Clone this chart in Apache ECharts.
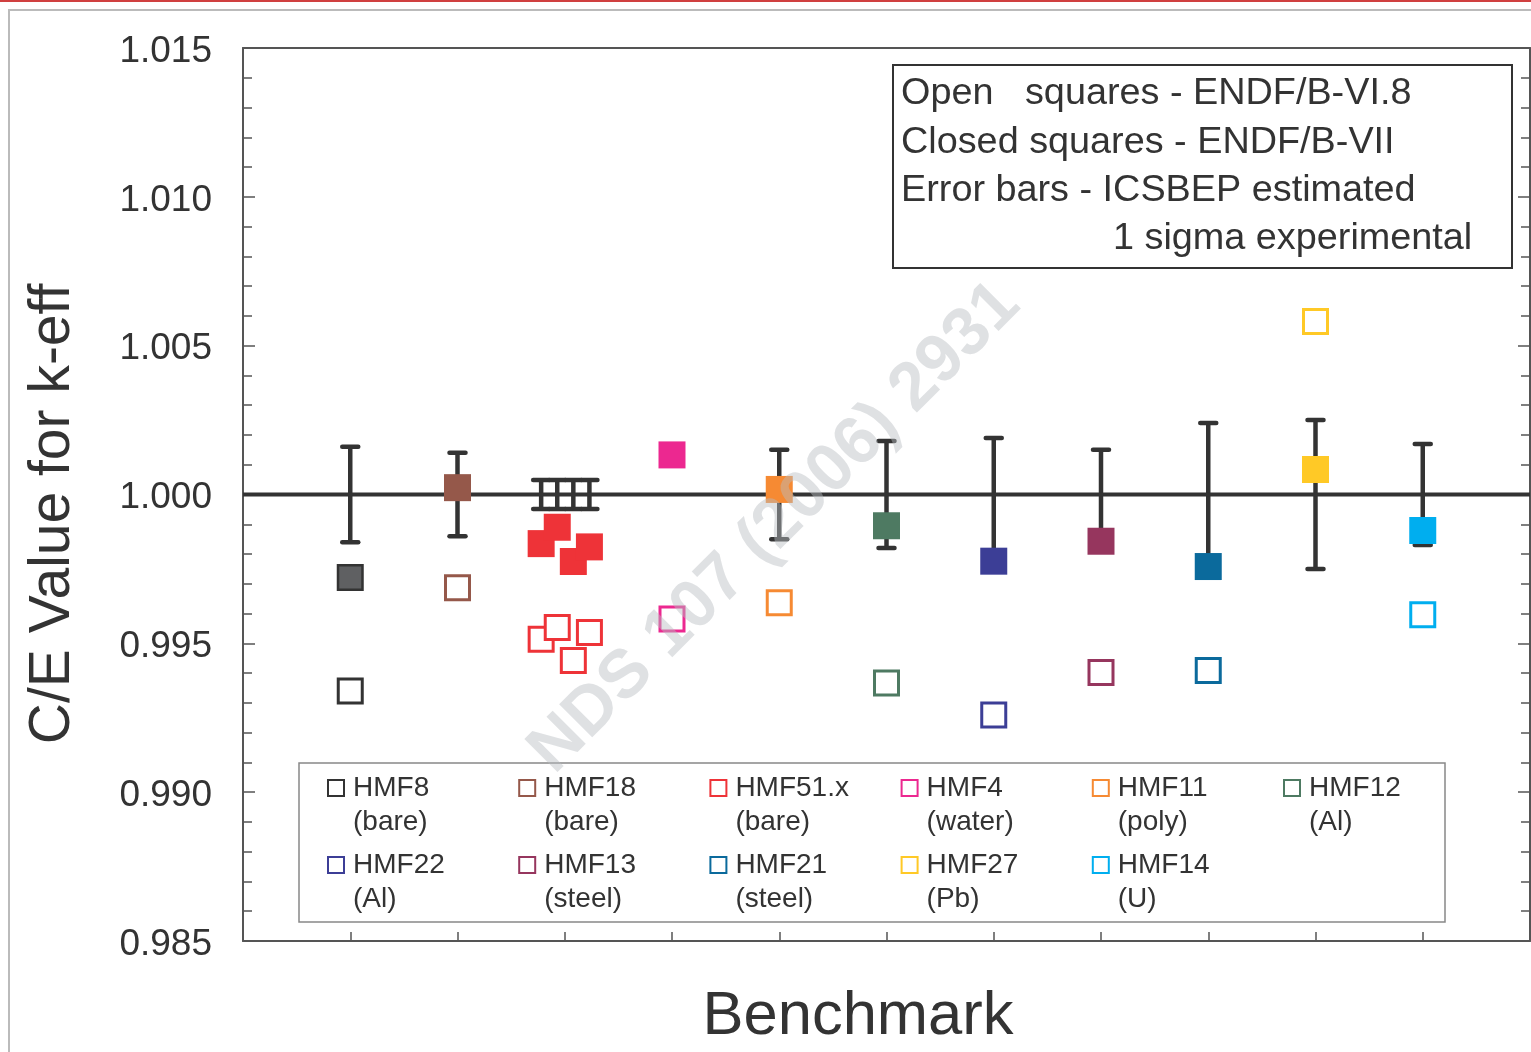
<!DOCTYPE html>
<html>
<head>
<meta charset="utf-8">
<script src="https://cdn.jsdelivr.net/npm/echarts@6/dist/echarts.min.js"></script>
<style>
html,body{margin:0;padding:0;background:#fff;}
#chart{width:1531px;height:1052px;}
</style>
</head>
<body>
<div id="chart"></div>
<script>
// ---------------- data ----------------
const benchmarks = ['HMF8','HMF18','HMF51.x','HMF4','HMF11','HMF12','HMF22','HMF13','HMF21','HMF27','HMF14'];
const materials  = ['(bare)','(bare)','(bare)','(water)','(poly)','(Al)','(Al)','(steel)','(steel)','(Pb)','(U)'];
const colors     = ['#333333','#95584a','#ee3338','#ec2890','#f68a33','#4e7a62','#3c3e96','#96365e','#0b6a9c','#ffc926','#00aeef'];
const xPositions = [[1],[2],[2.78,2.93,3.08,3.23],[4],[5],[6],[7],[8],[9],[10],[11]];
// Closed squares - ENDF/B-VII
const closedCE = [[0.99721],[1.00023],[0.99835,0.99890,0.99775,0.99824],[1.00133],[1.00017],[0.99895],[0.99776],[0.99843],[0.99758],[1.00084],[0.99879]];
// Open squares - ENDF/B-VI.8
const openCE   = [[0.99340],[0.99687],[0.99514,0.99553,0.99442,0.99536],[0.99582],[0.99636],[0.99367],[0.99259],[0.99402],[0.99409],[1.00581],[0.99596]];
// 1 sigma experimental uncertainty (about 1.000)
const sigma    = [[0.0016],[0.0014],[0.00049,0.00049,0.00049,0.00049],[null],[0.0015],[0.0018],[0.0019],[0.0015],[0.0024],[0.0025],[0.0017]];
const yTickLabels = ['0.985','0.990','0.995','1.000','1.005','1.010','1.015'];
const infoLines = ['Open   squares - ENDF/B-VI.8','Closed squares - ENDF/B-VII','Error bars - ICSBEP estimated','1 sigma experimental'];
const reference = 1.0;

// ---------------- chart ----------------
const FONT = '"Liberation Sans", Arial, Helvetica, sans-serif';
const TXT = '#333333';
const AX = '#555555';
const chart = echarts.init(document.getElementById('chart'), null, {renderer:'canvas'});

const errData = [];
benchmarks.forEach((b,i)=>{
  xPositions[i].forEach((x,j)=>{
    const s = sigma[i][j];
    if (s != null) errData.push([x, reference - s, reference + s]);
  });
});

const series = [];
series.push({
  type:'custom', z:2, silent:true,
  data: errData,
  renderItem: function(params, api){
    const x = api.value(0);
    const lo = api.coord([x, api.value(1)]);
    const hi = api.coord([x, api.value(2)]);
    const hw = 8;
    const st = {stroke:'#333333', lineWidth:4.5, lineCap:'round'};
    return {type:'group', children:[
      {type:'line', shape:{x1:lo[0],y1:lo[1],x2:hi[0],y2:hi[1]}, style:{stroke:'#333333',lineWidth:4.5}},
      {type:'line', shape:{x1:lo[0]-hw,y1:lo[1],x2:lo[0]+hw,y2:lo[1]}, style:st},
      {type:'line', shape:{x1:hi[0]-hw,y1:hi[1],x2:hi[0]+hw,y2:hi[1]}, style:st}
    ]};
  }
});
series.push({
  type:'line', z:3, silent:true, symbol:'none',
  data:[[0,reference],[12,reference]],
  lineStyle:{color:'#333333', width:4}
});
benchmarks.forEach((b,i)=>{
  const c = colors[i];
  series.push({
    name:b+' open', type:'scatter', z:5, silent:true, symbol:'rect', symbolSize:24,
    data: xPositions[i].map((x,j)=>[x, openCE[i][j]]),
    itemStyle:{color:'#ffffff', borderColor:c, borderWidth:3, opacity:1}
  });
  series.push({
    name:b+' closed', type:'scatter', z:6, silent:true, symbol:'rect',
    symbolSize: i===0 ? 24.5 : 27,
    data: xPositions[i].map((x,j)=>[x, closedCE[i][j]]),
    itemStyle: i===0 ? {color:'#5f6062', borderColor:'#333333', borderWidth:2.5, opacity:1}
                     : {color:c, opacity:1}
  });
});

// legend (graphic), built from benchmark arrays
const graphics = [];
graphics.push({type:'rect', z:0, shape:{x:9,y:10,width:1600,height:1100}, style:{fill:'none',stroke:'#bbbbbb',lineWidth:2}});
graphics.push({type:'rect', z:0, shape:{x:0,y:0,width:1531,height:2}, style:{fill:'#d04040'}});
graphics.push({type:'rect', z:50, shape:{x:299,y:763,width:1146,height:159}, style:{fill:'#ffffff',stroke:'#888888',lineWidth:1.5}});
benchmarks.forEach((b,i)=>{
  const col = i % 6, row = Math.floor(i/6);
  const x0 = 327 + col*191.2;
  const yc = 788 + row*77;
  graphics.push({type:'rect', z:51, shape:{x:x0+1,y:yc-8,width:16,height:16}, style:{fill:'#fff',stroke:colors[i],lineWidth:2}});
  graphics.push({type:'text', z:51, x:x0+26, y:yc, style:{text:b, font:'28px '+FONT, fill:TXT, verticalAlign:'middle', align:'left'}});
  graphics.push({type:'text', z:51, x:x0+26, y:yc+34, style:{text:materials[i], font:'28px '+FONT, fill:TXT, verticalAlign:'middle', align:'left'}});
});
// info box
graphics.push({type:'rect', z:50, shape:{x:893,y:65,width:619,height:203}, style:{fill:'#ffffff',stroke:'#333333',lineWidth:2}});
infoLines.forEach((t,k)=>{
  graphics.push({type:'text', z:51, x: k===3 ? 1113 : 901, y: 94 + k*48.3,
    style:{text:t, font:'37.8px '+FONT, fill:TXT, verticalAlign:'middle', align:'left'}});
});
// axis titles
graphics.push({type:'text', z:51, x:858, y:1017, style:{text:'Benchmark', font:'61.5px '+FONT, fill:TXT, align:'center', verticalAlign:'middle'}});
graphics.push({type:'text', z:51, x:53, y:514, rotation:Math.PI/2, style:{text:'C/E Value for k-eff', font:'57px '+FONT, fill:TXT, align:'center', verticalAlign:'middle'}});
// watermark
graphics.push({type:'text', z:200, x:775, y:528, rotation:Math.PI/4, style:{text:'NDS 107 (2006) 2931', font:'bold 68px '+FONT, fill:'rgba(185,188,192,0.45)', align:'center', verticalAlign:'middle'}});

function yAxisCfg(pos, showLabel){
  return {
    type:'value', min:0.985, max:1.015, interval:0.005, position:pos,
    axisLine:{show:true, onZero:false, lineStyle:{color:AX, width:2}},
    axisTick:{show:true, inside:true, length:12, lineStyle:{color:AX, width:1.5}},
    minorTick:{show:true, splitNumber:5, length:9, lineStyle:{color:AX, width:1.5}},
    splitLine:{show:false}, minorSplitLine:{show:false},
    axisLabel: showLabel ? {show:true, inside:false, margin:31, color:TXT, fontSize:37, fontFamily:FONT,
        rich:{v:{fontSize:37, fontFamily:FONT, color:TXT, padding:[7,0,0,0]}},
        formatter:function(v){ const idx = Math.round((v-0.985)/0.005); return '{v|' + (yTickLabels[idx] || '') + '}'; }} : {show:false}
  };
}

chart.setOption({
  animation:false,
  backgroundColor:'#ffffff',
  grid:{left:243, top:48, right:1, bottom:111, containLabel:false},
  xAxis:[
    {type:'value', min:0, max:12, interval:1, position:'bottom',
     axisLine:{show:true, onZero:false, lineStyle:{color:AX, width:2}},
     axisTick:{show:true, inside:true, length:9, lineStyle:{color:AX, width:1.5}},
     axisLabel:{show:false}, splitLine:{show:false}},
    {type:'value', min:0, max:12, interval:1, position:'top',
     axisLine:{show:true, onZero:false, lineStyle:{color:AX, width:2}},
     axisTick:{show:false}, axisLabel:{show:false}, splitLine:{show:false}}
  ],
  yAxis:[ yAxisCfg('left', true), yAxisCfg('right', false) ],
  series: series,
  graphic: graphics
});
</script>
</body>
</html>
